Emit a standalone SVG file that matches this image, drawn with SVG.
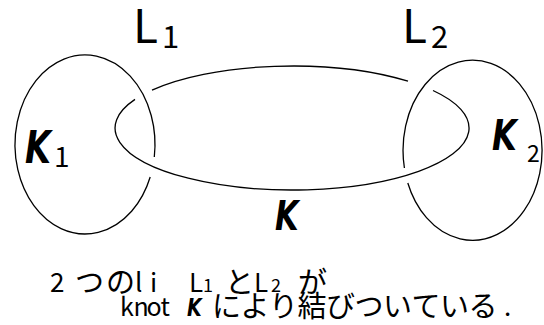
<svg xmlns="http://www.w3.org/2000/svg" width="544" height="325" viewBox="0 0 544 325">
  <style>
    .curve { fill: none; stroke: #000; stroke-width: 1.3; }
    .gothic { font-family: "Noto Sans CJK JP", "Noto Sans", sans-serif; fill: #000; }
    .knotname { font-family: "DejaVu Sans", sans-serif; font-style: italic; font-weight: bold; fill: #000; }
  </style>
  <rect width="544" height="325" fill="#fff"/>

  <!-- component K1: left ellipse, broken where the knot crosses over it -->
  <g id="component-K1">
    <path class="curve" d="M 150.2 177 A 70 89.5 0 1 1 154.3 157"/>
    <text class="knotname" x="0" y="0" font-size="44" transform="translate(25 163) scale(0.76 1)">K</text>
    <text class="gothic" x="54" y="167" font-size="28">1</text>
  </g>

  <!-- component K2: right ellipse -->
  <g id="component-K2">
    <path class="curve" d="M 407.8 183 A 69.5 90 0 1 0 404.4 168"/>
    <text class="knotname" x="0" y="0" font-size="42" transform="translate(492 150) scale(0.76 1)">K</text>
    <text class="gothic" x="527" y="162" font-size="23">2</text>
  </g>

  <!-- knot K joining the two components -->
  <g id="connectors">
    <path class="curve" d="M 152 90.1 A 177 62 0 0 1 408 81.2"/>
    <path class="curve" d="M 433 90.5 A 177 62 0 1 1 135 99.4"/>
  </g>

  <g id="label-knot">
    <text class="knotname" x="0" y="0" font-size="40" transform="translate(275 230) scale(0.76 1)">K</text>
  </g>

  <!-- link labels -->
  <g id="label-L1">
    <text class="gothic" x="133" y="43" font-size="46">L</text>
    <text class="gothic" x="162" y="48" font-size="31">1</text>
  </g>
  <g id="label-L2">
    <text class="gothic" x="402" y="43" font-size="46">L</text>
    <text class="gothic" x="431" y="48" font-size="31">2</text>
  </g>

  <!-- caption -->
  <g id="caption">
    <text class="gothic" font-size="26" y="292" x="50">2</text>
    <text class="gothic" font-size="29" y="293" x="75 106">つの</text>
    <text class="gothic" font-size="26" y="292" x="135 150">li</text>
    <text class="gothic" font-size="26" y="292" x="189">L</text>
    <text class="gothic" font-size="18" y="292" x="203">1</text>
    <text class="gothic" font-size="29" y="293" x="225">と</text>
    <text class="gothic" font-size="26" y="292" x="254">L</text>
    <text class="gothic" font-size="18" y="292" x="271">2</text>
    <text class="gothic" font-size="29" y="293" x="298">が</text>

    <text class="gothic" font-size="25" y="316" x="120 133.5 146.5 160.5">knot</text>
    <text class="knotname" x="0" y="0" font-size="25" transform="translate(187 316) scale(0.76 1)">K</text>
    <text class="gothic" font-size="29" y="317" x="212 240.5 269 297.5 326 354.5 383 411.5 440 468.5">により結びついている</text>
    <text class="gothic" font-size="26" y="316" x="504">.</text>
  </g>
</svg>
